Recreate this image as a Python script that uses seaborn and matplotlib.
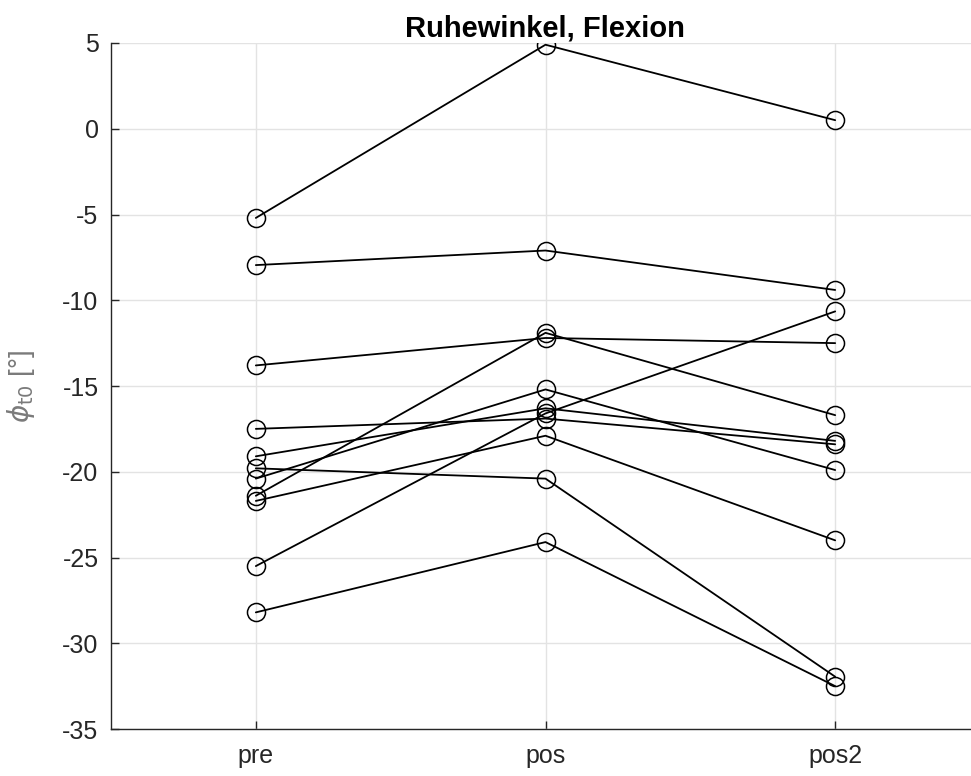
import matplotlib
matplotlib.use("Agg")
import matplotlib.pyplot as plt
import seaborn as sns
import pandas as pd

# ---- data ----
conditions = ["pre", "pos", "pos2"]
subject_ids = list(range(1, 12))
pre_vals  = [-5.2, -7.95, -13.8, -17.5, -19.1, -19.8, -20.4, -21.4, -21.7, -25.5, -28.2]
pos_vals  = [4.9, -7.1, -12.2, -16.9, -16.3, -20.4, -15.2, -11.9, -17.9, -16.6, -24.1]
pos2_vals = [0.5, -9.4, -12.5, -18.4, -18.2, -31.95, -19.9, -16.7, -24.0, -10.65, -32.5]
y_ticks = [5, 0, -5, -10, -15, -20, -25, -30, -35]
title_text = "Ruhewinkel, Flexion"
ylabel_text = r"$\phi_{\mathrm{t0}}$ [°]"

rows = []
for i, s in enumerate(subject_ids):
    for cond, vals in zip(conditions, [pre_vals, pos_vals, pos2_vals]):
        rows.append({"subject": s, "cond": cond, "value": vals[i]})
df = pd.DataFrame(rows)

sns.set_theme(style="white")
plt.rcParams["font.family"] = ["Liberation Sans", "DejaVu Sans"]
plt.rcParams["mathtext.fontset"] = "dejavusans"

fig = plt.figure(figsize=(9.71, 7.76), dpi=100)
ax = fig.add_axes([111 / 971, 1 - 729 / 776, 869 / 971, (729 - 43) / 776])

sns.lineplot(data=df, x="cond", y="value", units="subject", estimator=None,
             color="black", linewidth=1.3, marker="o", markersize=13,
             markerfacecolor="none", markeredgecolor="black", markeredgewidth=1.1,
             sort=False, ax=ax, zorder=3)

ax.set_xlim(-0.5, 2.5)
ax.set_ylim(-35, 5)
ax.set_yticks(y_ticks)
ax.set_yticklabels([str(t) for t in y_ticks])
ax.set_xticks(range(len(conditions)))
ax.set_xticklabels(conditions)

ax.grid(True, color="#e3e3e3", linewidth=1.0, zorder=0)
ax.set_axisbelow(True)
for side in ["top", "right"]:
    ax.spines[side].set_visible(False)
for side in ["left", "bottom"]:
    ax.spines[side].set_color("#262626")
    ax.spines[side].set_linewidth(1.0)

ax.tick_params(axis="both", direction="in", length=6, width=1.0, color="#262626",
               labelsize=18, labelcolor="#262626", left=True, bottom=True)
ax.tick_params(axis="y", pad=9)
ax.tick_params(axis="x", pad=11)

ax.set_xlabel("")
ax.set_ylabel(ylabel_text, fontsize=20, color="#7a7a7a")
ax.yaxis.set_label_coords(-74 / 869, 0.5)

ax.set_title(title_text, fontsize=21, fontweight="bold", color="black", pad=5)
ax.title.set_x((545 - 111) / 869)

fig.savefig("out.png", dpi=100)
